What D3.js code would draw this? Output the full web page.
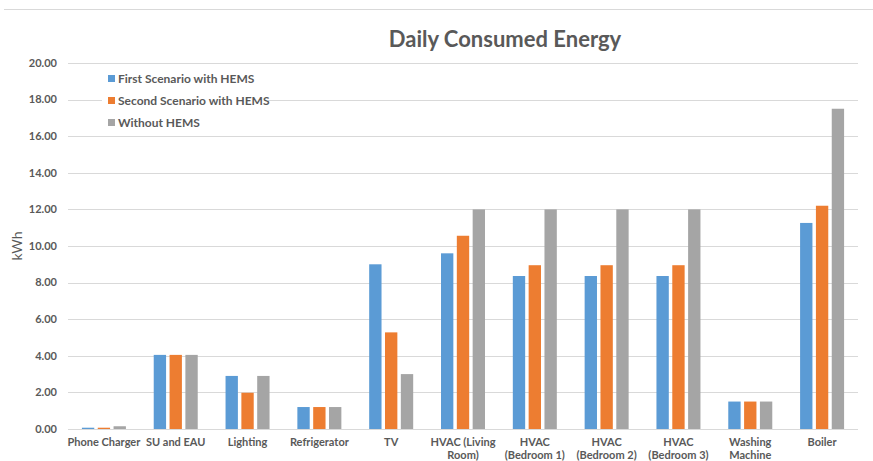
<!DOCTYPE html>
<html>
<head>
<meta charset="utf-8">
<script src="https://cdn.jsdelivr.net/npm/d3@7"></script>
<style>
  body { margin: 0; background: #fff; }
  text { font-family: Lato, "Open Sans", sans-serif; fill: #595959; }
</style>
</head>
<body>
<div id="chart"></div>
<script>
var categories = ["Phone Charger", "SU and EAU", "Lighting", "Refrigerator", "TV",
    "HVAC (Living Room)", "HVAC (Bedroom 1)", "HVAC (Bedroom 2)", "HVAC (Bedroom 3)",
    "Washing Machine", "Boiler"];
var categoryLines = [["Phone Charger"], ["SU and EAU"], ["Lighting"], ["Refrigerator"], ["TV"],
    ["HVAC (Living", "Room)"], ["HVAC", "(Bedroom 1)"], ["HVAC", "(Bedroom 2)"], ["HVAC", "(Bedroom 3)"],
    ["Washing", "Machine"], ["Boiler"]];
var seriesNames = ["First Scenario with HEMS", "Second Scenario with HEMS", "Without HEMS"];
var firstScenario = [0.07, 4.05, 2.9, 1.2, 9.0, 9.6, 8.36, 8.36, 8.36, 1.5, 11.26];
var secondScenario = [0.07, 4.05, 1.98, 1.2, 5.28, 10.56, 8.95, 8.95, 8.95, 1.5, 12.2];
var withoutHems = [0.15, 4.05, 2.9, 1.2, 3.0, 12.0, 12.0, 12.0, 12.0, 1.5, 17.5];
var yTicks = [0, 2, 4, 6, 8, 10, 12, 14, 16, 18, 20];
var colors = ["#5B9BD5", "#ED7D31", "#A5A5A5"];

var seriesValues = [firstScenario, secondScenario, withoutHems];

var width = 873, height = 461;
var margin = {top: 63, right: 15, bottom: 32, left: 68};

var svg = d3.select("#chart").append("svg")
    .attr("width", width)
    .attr("height", height);

// outer chart border (top line)
svg.append("line")
    .attr("x1", 4).attr("x2", width)
    .attr("y1", 9.5).attr("y2", 9.5)
    .attr("stroke", "#d9d9d9");

var g = svg.append("g")
    .attr("transform", "translate(" + margin.left + "," + margin.top + ")");

var w = width - margin.left - margin.right;
var h = height - margin.top - margin.bottom;

var x0 = d3.scaleBand()
    .domain(categories)
    .range([0, w])
    .paddingInner(0)
    .paddingOuter(0);

var x1 = d3.scaleBand()
    .domain(d3.range(3))
    .range([x0.bandwidth() / 2 - 22, x0.bandwidth() / 2 + 22])
    .paddingInner(0.22);

var y = d3.scaleLinear()
    .domain([0, 20])
    .range([h, 0]);

// gridlines
g.selectAll(".grid")
    .data(yTicks)
    .enter().append("line")
    .attr("class", "grid")
    .attr("x1", 0).attr("x2", w)
    .attr("y1", function(d) { return Math.round(y(d)) + 0.5; })
    .attr("y2", function(d) { return Math.round(y(d)) + 0.5; })
    .attr("stroke", "#d9d9d9");

// y tick labels
g.selectAll(".ylab")
    .data(yTicks)
    .enter().append("text")
    .attr("class", "ylab")
    .attr("x", -11)
    .attr("y", function(d) { return y(d); })
    .attr("dy", "0.35em")
    .attr("text-anchor", "end")
    .style("font-size", "11px")
    .style("font-weight", "bold")
    .text(function(d) { return d3.format(".2f")(d); });

// bars
var groups = g.selectAll(".cat")
    .data(categories)
    .enter().append("g")
    .attr("class", "cat")
    .attr("transform", function(d) { return "translate(" + x0(d) + ",0)"; });

groups.selectAll("rect")
    .data(function(d, i) {
        return seriesValues.map(function(s, k) { return {k: k, v: s[i]}; });
    })
    .enter().append("rect")
    .attr("x", function(d) { return x1(d.k); })
    .attr("width", x1.bandwidth())
    .attr("y", function(d) { return y(d.v); })
    .attr("height", function(d) { return h - y(d.v); })
    .attr("fill", function(d) { return colors[d.k]; });

// x labels
groups.each(function(d, i) {
    var t = d3.select(this).append("text")
        .attr("x", x0.bandwidth() / 2)
        .attr("y", h + 17)
        .attr("text-anchor", "middle")
        .style("font-size", "11px")
        .style("font-weight", "bold");
    categoryLines[i].forEach(function(line, j) {
        t.append("tspan")
            .attr("x", x0.bandwidth() / 2)
            .attr("dy", j === 0 ? 0 : 13)
            .text(line);
    });
});

// y axis title
svg.append("text")
    .attr("transform", "translate(22," + (margin.top + h / 2) + ") rotate(-90)")
    .attr("text-anchor", "middle")
    .style("font-size", "14px")
    .text("kWh");

// title
svg.append("text")
    .attr("x", 505)
    .attr("y", 47)
    .attr("text-anchor", "middle")
    .style("font-size", "22px")
    .style("font-weight", "bold")
    .text("Daily Consumed Energy");

// legend
var legend = svg.append("g")
    .attr("transform", "translate(102,68)");

legend.append("rect")
    .attr("width", 166)
    .attr("height", 66)
    .attr("fill", "#fff");

var items = legend.selectAll(".item")
    .data(seriesNames)
    .enter().append("g")
    .attr("class", "item")
    .attr("transform", function(d, i) { return "translate(6," + (11 + i * 22) + ")"; });

items.append("rect")
    .attr("x", 0).attr("y", -4)
    .attr("width", 7).attr("height", 7)
    .attr("fill", function(d, i) { return colors[i]; });

items.append("text")
    .attr("x", 10)
    .attr("dy", "0.35em")
    .style("font-size", "12px")
    .style("font-weight", "bold")
    .text(function(d) { return d; });
</script>
</body>
</html>
